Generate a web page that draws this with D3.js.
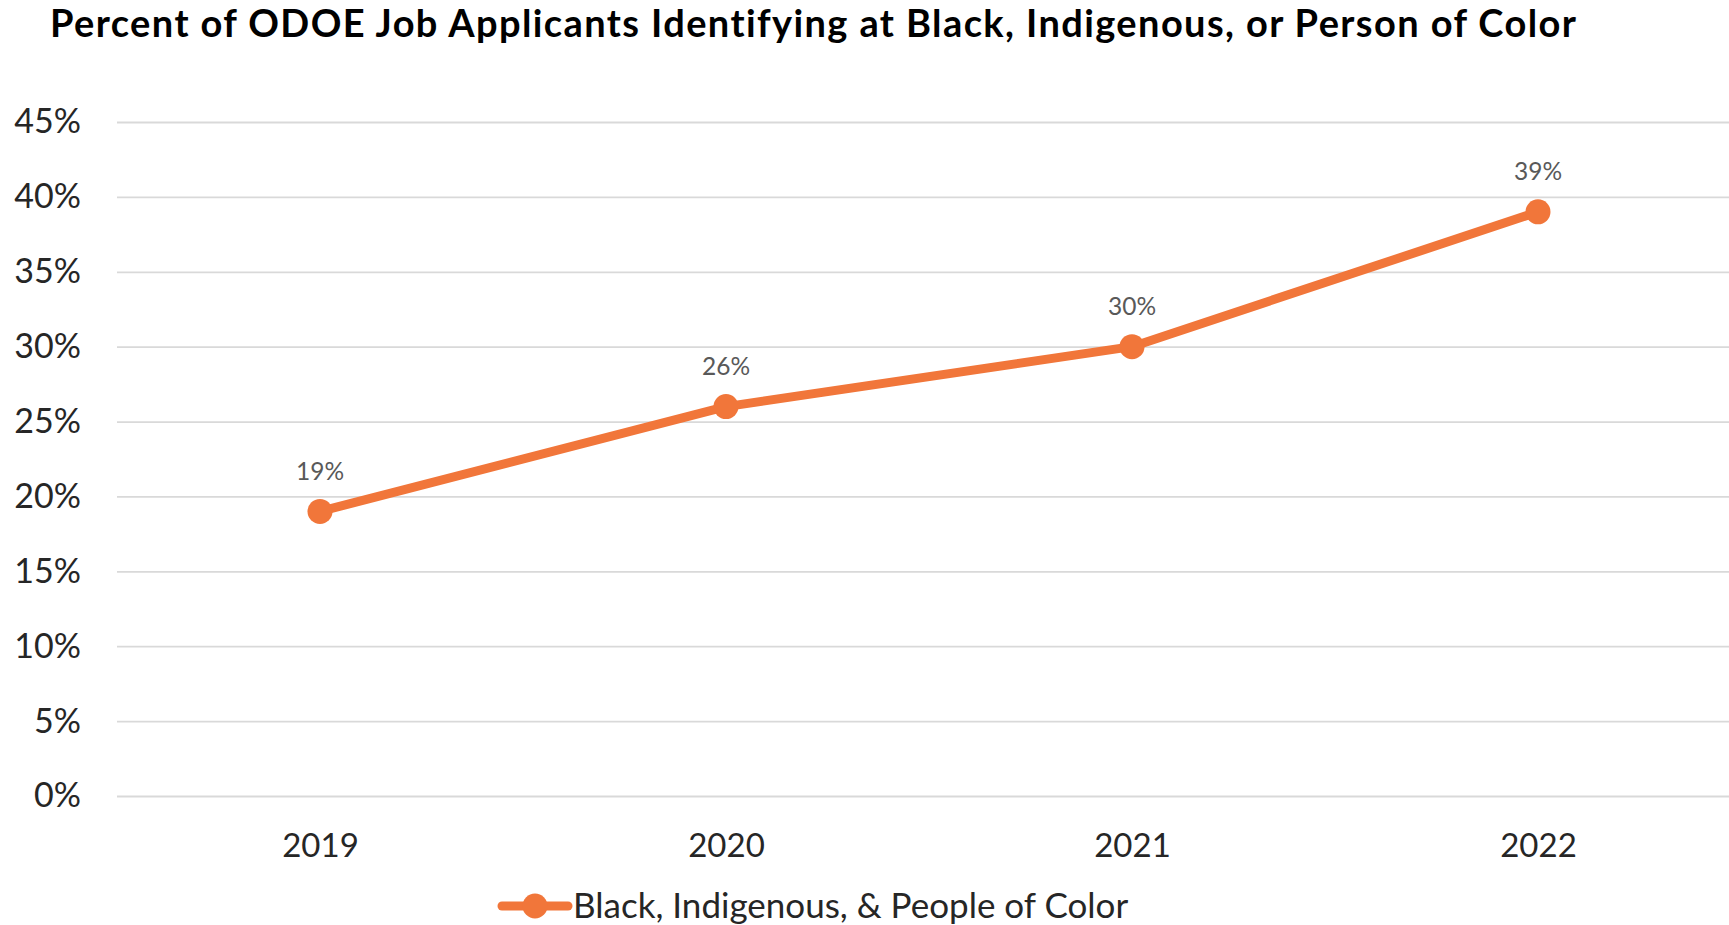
<!DOCTYPE html>
<html>
<head>
<meta charset="utf-8">
<script src="https://cdn.jsdelivr.net/npm/d3@7"></script>
<style>
  html, body { margin: 0; padding: 0; background: #ffffff; }
  svg { display: block; }
</style>
</head>
<body>
<script>
// ---- data ----
const titleText = "Percent of ODOE Job Applicants Identifying at Black, Indigenous, or Person of Color";
const years = ["2019", "2020", "2021", "2022"];
const bipocPct = [19, 26, 30, 39];
const seriesName = "Black, Indigenous, & People of Color";
const yTicks = [0, 5, 10, 15, 20, 25, 30, 35, 40, 45];

// ---- layout ----
const W = 1729, H = 925;
const plot = { left: 117, right: 1741, top: 122, bottom: 796 };
const orange = "#F1763A";
const font = "Lato, 'Open Sans', sans-serif";

const svg = d3.select("body").append("svg")
  .attr("width", W).attr("height", H)
  .attr("viewBox", `0 0 ${W} ${H}`);

svg.append("rect").attr("width", W).attr("height", H).attr("fill", "#fff");

const x = d3.scalePoint().domain(years).range([plot.left, plot.right]).padding(0.5);
const y = d3.scaleLinear().domain([0, 45]).range([plot.bottom, plot.top]);

// title
svg.append("text")
  .attr("x", 50).attr("y", 37)
  .attr("font-family", font).attr("font-weight", 700)
  .attr("font-size", 38).attr("letter-spacing", 1.4).attr("fill", "#000")
  .text(titleText);

// gridlines + y axis labels
const yAxis = d3.axisLeft(y).tickValues(yTicks)
  .tickSize(-(plot.right - plot.left))
  .tickPadding(36)
  .tickFormat(d => d + "%");
const gy = svg.append("g").attr("transform", `translate(${plot.left},0)`).call(yAxis);
gy.select(".domain").remove();
gy.selectAll(".tick line").attr("stroke", "#D9D9D9").attr("stroke-width", 1.8);
gy.selectAll(".tick text")
  .attr("font-family", font).attr("font-size", 34).attr("fill", "#262626");

// x axis labels
const xAxis = d3.axisBottom(x).tickSize(0).tickPadding(38);
const gx = svg.append("g").attr("transform", `translate(0,${plot.bottom})`).call(xAxis);
gx.select(".domain").remove();
gx.selectAll(".tick text")
  .attr("font-family", font).attr("font-size", 33).attr("fill", "#262626");

// line
const pts = years.map((yr, i) => ({ yr, v: bipocPct[i] }));
const line = d3.line().x(d => x(d.yr)).y(d => y(d.v));
svg.append("path").datum(pts)
  .attr("d", line).attr("fill", "none")
  .attr("stroke", orange).attr("stroke-width", 9)
  .attr("stroke-linejoin", "round").attr("stroke-linecap", "round");

svg.selectAll("circle.pt").data(pts).enter().append("circle")
  .attr("class", "pt")
  .attr("cx", d => x(d.yr)).attr("cy", d => y(d.v))
  .attr("r", 12.5).attr("fill", orange);

// data labels
svg.selectAll("text.lbl").data(pts).enter().append("text")
  .attr("class", "lbl")
  .attr("x", d => x(d.yr)).attr("y", d => y(d.v) - 40)
  .attr("dy", "0.35em")
  .attr("text-anchor", "middle")
  .attr("font-family", font).attr("font-size", 24.5).attr("fill", "#595959")
  .text(d => d.v + "%");

// legend
const lg = svg.append("g");
lg.append("line").attr("x1", 502).attr("x2", 568).attr("y1", 906).attr("y2", 906)
  .attr("stroke", orange).attr("stroke-width", 9).attr("stroke-linecap", "round");
lg.append("circle").attr("cx", 535).attr("cy", 906).attr("r", 12.5).attr("fill", orange);
lg.append("text").attr("x", 573).attr("y", 906).attr("dy", "0.35em")
  .attr("font-family", font).attr("font-size", 35).attr("fill", "#262626")
  .text(seriesName);
</script>
</body>
</html>
